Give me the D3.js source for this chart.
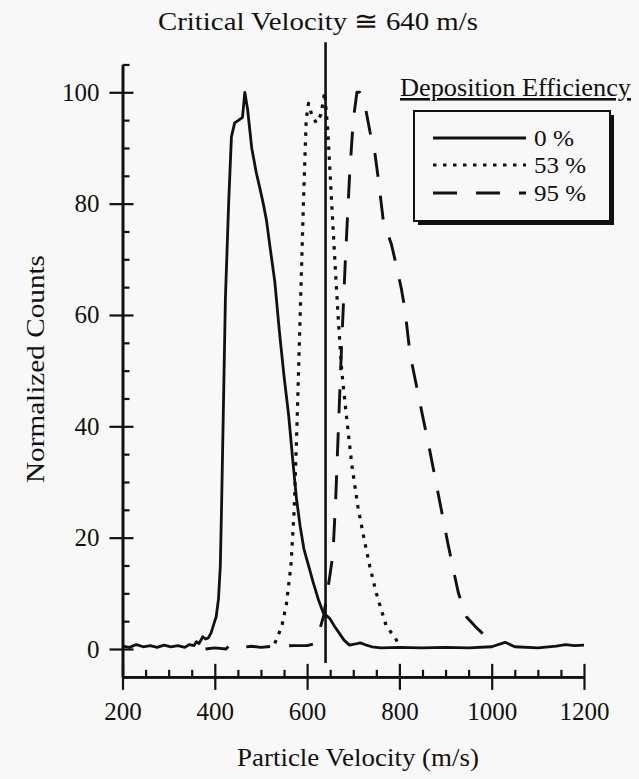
<!DOCTYPE html>
<html><head><meta charset="utf-8">
<script src="https://cdn.jsdelivr.net/npm/d3@7"></script>
<style>
html,body{margin:0;padding:0;background:#f8f8f8;}
svg{display:block;}
text{font-family:"Liberation Serif","Times New Roman",serif;fill:#111;}
</style></head>
<body><svg id="c" width="639" height="779"></svg>
<script>
// ---- data ----
const xTicks = [200, 400, 600, 800, 1000, 1200];
const yTicks = [0, 20, 40, 60, 80, 100];
const criticalVelocity = 640;
const seriesNames = ["0 %", "53 %", "95 %"];

const v0x = [200,215,230,245,260,275,290,305,320,335,345,355,360,366,374,380,386,392,398,403,408,412,415,419,423,430,436,443,452,460,465,471,480,490,497,505,512,520,530,540,550,560,570,577,585,593,603,613,624,635,649,660,670,680,692,705,715,725,740,760,800,850,900,950,1000,1029,1050,1100,1140,1160,1180,1200];
const v0y = [0.5,0.3,0.8,0.4,0.6,0.3,0.7,0.4,0.6,0.3,0.8,0.6,1.3,1.0,2.2,1.8,2.0,2.9,4.5,5.8,9,15,27,45,63,80,92,94.5,95,95.5,100,97,90,85.5,83,80,77,72,66,57,49,42,33,27,22,18,15,12,9,6.5,5.5,4,2.8,1.6,0.7,0.9,1.1,0.8,0.4,0.2,0.3,0.2,0.3,0.2,0.4,1.2,0.4,0.2,0.5,0.8,0.6,0.7];

const v53x = [530,545,555,565,572,578,585,592,598,603,610,620,630,638,645,652,660,667,675,685,697,710,723,736,750,772,790,800];
const v53y = [1,4,8,15,25,40,60,80,95,98,96,94.5,96,100,93,82,70,60,50,42,33,25.6,20,14.8,10,4,2.2,0.5];

const v95x = [380,400,424,432,450,479,500,526,573,600,613,623,636,649,656,662,668,675,683,692,700,708,714,727,736,747,755,765,783,793,804,812,823,845,865,885,905,915,928,945,965,990];
const v95y = [0,0.2,0,0.7,0.2,0.5,0.3,0.5,0.6,0.6,0.9,2.2,6,13,17,27,40,55,70,85,95,100,100,97,93,89,84,77,72.6,69,64.8,61,53,44,36,27.5,19,15,10,5.8,4,2];

// ---- drawing ----
const svg = d3.select("#c");
const x = d3.scaleLinear().domain([200, 1200]).range([122.5, 584]);
const y = d3.scaleLinear().domain([0, 100]).range([649, 92.3]);
const ink = "#111";
const bg = "#f8f8f8";

// axes
const xAxisY = y(-5);
const gx = svg.append("g").attr("transform", `translate(0,${xAxisY})`);
gx.call(d3.axisBottom(x).tickValues(xTicks).tickSize(13).tickSizeOuter(0).tickPadding(12).tickFormat(d3.format("d")));
gx.append("g").call(d3.axisTop(x).tickValues(xTicks).tickSize(13).tickSizeOuter(0).tickFormat(""));
gx.append("g").call(d3.axisTop(x).tickValues(d3.range(250, 1200, 50).filter(v => v % 200 !== 0)).tickSize(7).tickSizeOuter(0).tickFormat(""));

const gy = svg.append("g").attr("transform", `translate(${x(200)},0)`);
const yAll = d3.scaleLinear().domain([-5, 105]).range([y(-5), y(105)]);
gy.call(d3.axisLeft(yAll).tickValues(yTicks).tickSize(13).tickSizeOuter(0).tickPadding(10).tickFormat(d3.format("d")));
gy.append("g").call(d3.axisRight(yAll).tickValues(yTicks).tickSize(11).tickSizeOuter(0).tickFormat(""));
gy.append("g").call(d3.axisRight(yAll).tickValues(d3.range(-5, 106, 5).filter(v => v % 20 !== 0)).tickSize(7).tickSizeOuter(0).tickFormat(""));

svg.selectAll(".domain").attr("stroke", ink).attr("stroke-width", 2.4);
svg.selectAll(".tick line").attr("stroke", ink).attr("stroke-width", 2.2);
svg.selectAll(".tick text").attr("font-family", "Liberation Serif, serif").attr("font-size", 25).attr("fill", ink);

// critical velocity line
svg.append("line")
  .attr("x1", x(criticalVelocity)).attr("x2", x(criticalVelocity))
  .attr("y1", y(109)).attr("y2", y(-2.5))
  .attr("stroke", ink).attr("stroke-width", 2.6);

// curves
const line = d3.line().x(d => x(d[0])).y(d => y(d[1]));
const series = [
  {xs: v0x, ys: v0y, dash: null, w: 2.8},
  {xs: v53x, ys: v53y, dash: "3.5,6.5", w: 3.2},
  {xs: v95x, ys: v95y, dash: "24,19", w: 2.9}
];
series.forEach(s => {
  svg.append("path")
    .datum(s.xs.map((v, i) => [v, s.ys[i]]))
    .attr("d", line)
    .attr("fill", "none")
    .attr("stroke", ink)
    .attr("stroke-width", s.w)
    .attr("stroke-linejoin", "round")
    .attr("stroke-dasharray", s.dash);
});

// titles
svg.append("text").attr("x", 318).attr("y", 30).attr("text-anchor", "middle")
  .attr("font-size", 26).attr("textLength", 320).attr("lengthAdjust", "spacingAndGlyphs")
  .text("Critical Velocity \u2245 640 m/s");
svg.append("text").attr("x", 358).attr("y", 766).attr("text-anchor", "middle")
  .attr("font-size", 26).attr("textLength", 242).attr("lengthAdjust", "spacingAndGlyphs")
  .text("Particle Velocity (m/s)");
svg.append("text").attr("transform", "translate(44,369) rotate(-90)").attr("text-anchor", "middle")
  .attr("font-size", 26).attr("textLength", 228).attr("lengthAdjust", "spacingAndGlyphs")
  .text("Normalized Counts");

// legend
svg.append("text").attr("x", 400).attr("y", 96).attr("font-size", 26)
  .attr("textLength", 231).attr("lengthAdjust", "spacingAndGlyphs")
  .attr("text-decoration", "underline").text("Deposition Efficiency");
svg.append("rect").attr("x", 418).attr("y", 115).attr("width", 196).attr("height", 110).attr("fill", ink);
svg.append("rect").attr("x", 414).attr("y", 111).attr("width", 196).attr("height", 110)
  .attr("fill", bg).attr("stroke", ink).attr("stroke-width", 2);
const legRows = [138, 165, 193];
series.forEach((s, i) => {
  svg.append("line").attr("x1", 433).attr("x2", 526).attr("y1", legRows[i]).attr("y2", legRows[i])
    .attr("stroke", ink).attr("stroke-width", s.w).attr("stroke-dasharray", s.dash);
  svg.append("text").attr("x", 534).attr("y", legRows[i] + 8).attr("font-size", 23)
    .attr("textLength", i === 0 ? 40 : 52).attr("lengthAdjust", "spacingAndGlyphs")
    .text(seriesNames[i]);
});
</script></body></html>
